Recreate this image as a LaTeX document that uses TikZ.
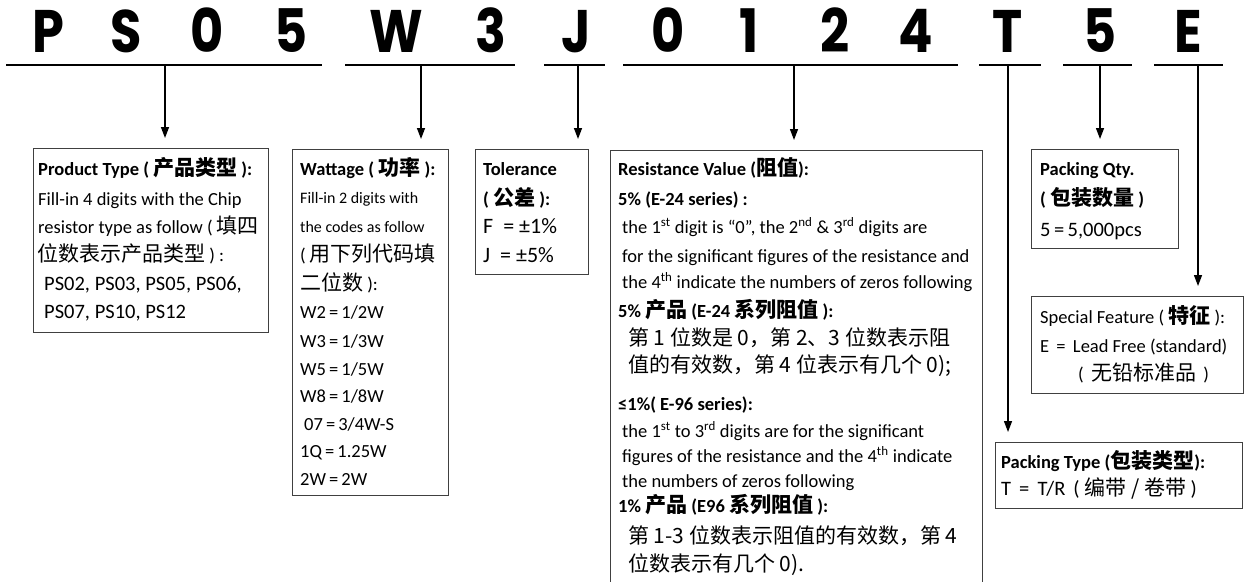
\documentclass[tikz,border=0pt]{standalone}
\usepackage{fontspec}
\setmainfont{Carlito}
\newfontfamily\cjk{Noto Sans CJK SC}
\newfontfamily\bigfont{Poppins}[FakeStretch=0.85]
\usetikzlibrary{arrows.meta}
\newcommand\zh[1]{{\cjk\fontsize{21}{23}\selectfont #1}}
\newcommand\sps[1]{\textsuperscript{#1}}
\begin{document}
\begin{tikzpicture}[x=1pt,y=-1pt,
  box/.style={draw=black!75, line width=1.2pt, inner sep=0pt, anchor=north west},
  uline/.style={line width=2pt},
  conn/.style={line width=1.4pt, -{Triangle[length=11pt,width=8pt]}, shorten >=10pt},
  txt/.style={anchor=base west, inner sep=0pt, font=\fontsize{18.5}{22}\selectfont},
  num/.style={anchor=base west, inner sep=0pt, font=\fontsize{20.5}{24}\selectfont},
  tol/.style={anchor=base west, inner sep=0pt, font=\fontsize{22}{24}\selectfont},
  sml/.style={anchor=base west, inner sep=0pt, font=\fontsize{16}{19}\selectfont},
  hd/.style={anchor=base west, inner sep=0pt, font=\fontsize{18.5}{22}\selectfont\bfseries},
  big/.style={anchor=base, inner sep=0pt, font=\bigfont\bfseries\fontsize{60}{60}\selectfont}]
\useasboundingbox (0,0) rectangle (1246,581);

% big code letters
\node[big] (L1) at (48,52) {P};
\node[big] (L2) at (126,52) {S};
\node[big] (L3) at (207,52) {0};
\node[big] (L4) at (291,52) {5};
\node[big] (L5) at (396,52) {W};
\node[big] (L6) at (491,52) {3};
\node[big] (L7) at (576,52) {J};
\node[big] (L8) at (668,52) {0};
\node[big] (L9) at (749,52) {1};
\node[big] (L10) at (835,52) {2};
\node[big] (L11) at (916,52) {4};
\node[big] (L12) at (1008,52) {T};
\node[big] (L13) at (1100,52) {5};
\node[big] (L14) at (1188,52) {E};

% underlines
\coordinate (a1) at (6,65);    \coordinate (b1) at (322,65);
\coordinate (a2) at (345,65);  \coordinate (b2) at (515,65);
\coordinate (a3) at (544,65);  \coordinate (b3) at (605,65);
\coordinate (a4) at (623,65);  \coordinate (b4) at (958,65);
\coordinate (a5) at (979,65);  \coordinate (b5) at (1041,65);
\coordinate (a6) at (1063,65); \coordinate (b6) at (1132,65);
\coordinate (a7) at (1154,65); \coordinate (b7) at (1223,65);
\foreach \i in {1,...,7} {\draw[uline] (a\i) -- (b\i);}

% connector starts
\coordinate (c1) at (165,65);
\coordinate (c2) at (421,65);
\coordinate (c3) at (578,65);
\coordinate (c4) at (794,65);
\coordinate (c5) at (1008,65);
\coordinate (c6) at (1100,65);
\coordinate (c7) at (1198,65);

% boxes
\node[box, minimum width=235pt, minimum height=184pt] (bPT) at (33,148) {};
\node[box, minimum width=156pt, minimum height=346pt] (bW) at (292,149) {};
\node[box, minimum width=113pt, minimum height=125pt] (bT) at (475,149) {};
\node[box, minimum width=372pt, minimum height=460pt] (bR) at (610,150) {};
\node[box, minimum width=147pt, minimum height=99pt] (bQ) at (1031,149) {};
\node[box, minimum width=212pt, minimum height=97pt] (bS) at (1031,296) {};
\node[box, minimum width=247pt, minimum height=66pt] (bK) at (995,442) {};

% connectors
\draw[conn] (c1) -- (c1 |- bPT.north);
\draw[conn] (c2) -- (c2 |- bW.north);
\draw[conn] (c3) -- (c3 |- bT.north);
\draw[conn] (c4) -- (c4 |- bR.north);
\draw[conn] (c5) -- (c5 |- bK.north);
\draw[conn] (c6) -- (c6 |- bQ.north);
\draw[conn] (c7) -- (c7 |- bS.north);

% Product type
\node[hd] (p1) at (38,175) {Product Type ( \zh{产品类型} ):};
\node[txt] (p2) at (38,205) {Fill-in 4 digits with the Chip};
\node[txt] (p3) at (38,233) {resistor type as follow ( \zh{填四}};
\node[txt] (p4) at (37,261) {\zh{位数表示产品类型} ) :};
\node[num] (p5) at (44,290) {PS02, PS03, PS05, PS06,};
\node[num] (p6) at (44,318) {PS07, PS10, PS12};

% Wattage
\node[hd] (w1) at (300,175) {Wattage ( \zh{功率} ):};
\node[sml] (w2) at (300,203) {Fill-in 2 digits with};
\node[sml] (w3) at (300,232) {the codes as follow};
\node[txt] (w4) at (300,261) {( \zh{用下列代码填}};
\node[txt] (w5) at (300,290) {\zh{二位数} ):};
\node[txt] (w6) at (300,318) {W2\,=\,1/2W};
\node[txt] (w7) at (300,347) {W3\,=\,1/3W};
\node[txt] (w8) at (300,375) {W5\,=\,1/5W};
\node[txt] (w9) at (300,402) {W8\,=\,1/8W};
\node[txt] (w10) at (304,430) {07\,=\,3/4W-S};
\node[txt] (w11) at (300,457) {1Q\,=\,1.25W};
\node[txt] (w12) at (300,485) {2W\,=\,2W};

% Tolerance
\node[hd] (t1) at (483,175) {Tolerance};
\node[hd] (t2) at (483,205) {( \zh{公差} ):};
\node[tol] (t3) at (483,233) {F \ = ±1\%};
\node[tol] (t4) at (483,262) {J \ = ±5\%};

% Resistance value
\node[hd] (r1) at (618,175) {Resistance Value (\zh{阻值}):};
\node[hd] (r2) at (618,205) {5\% (E-24 series) :};
\node[txt] (r3) at (622,233) {the 1\sps{st} digit is “0”, the 2\sps{nd} \& 3\sps{rd} digits are};
\node[txt] (r4) at (622,262) {for the significant figures of the resistance and};
\node[txt] (r5) at (622,288) {the 4\sps{th} indicate the numbers of zeros following};
\node[hd] (r6) at (618,317) {5\% \zh{产品} (E-24 \zh{系列阻值} ):};
\node[txt] (r7) at (628,345) {\zh{第 1 位数是 0，第 2、3 位数表示阻}};
\node[txt] (r8) at (628,372) {\zh{值的有效数，第 4 位表示有几个 0);}};
\node[hd] (r9) at (618,410) {≤1\%( E-96 series):};
\node[txt] (r10) at (622,437) {the 1\sps{st} to 3\sps{rd} digits are for the significant};
\node[txt] (r11) at (622,462) {figures of the resistance and the 4\sps{th} indicate};
\node[txt] (r12) at (622,487) {the numbers of zeros following};
\node[hd] (r13) at (618,512) {1\% \zh{产品} (E96 \zh{系列阻值} ):};
\node[txt] (r14) at (628,543) {\zh{第 1-3 位数表示阻值的有效数，第 4}};
\node[txt] (r15) at (628,571) {\zh{位数表示有几个 0).}};

% Packing Qty
\node[hd] (q1) at (1040,175) {Packing Qty.};
\node[hd] (q2) at (1040,205) {( \zh{包装数量} )};
\node[num] (q3) at (1040,236) {5\,=\,5,000pcs};

% Special feature
\node[txt] (s1) at (1040,323) {Special Feature ( {\bfseries\zh{特征}} ):};
\node[txt] (s2) at (1040,352) {E \,=\, Lead Free (standard)};
\node[txt] (s3) at (1078,380) {( \,\zh{无铅标准品}\, )};

% Packing type
\node[hd] (k1) at (1001,468) {Packing Type (\zh{包装类型}):};
\node[num] (k2) at (1001,495) {T \,=\, T/R \,( \zh{编带 / 卷带} )};
\end{tikzpicture}
\end{document}
